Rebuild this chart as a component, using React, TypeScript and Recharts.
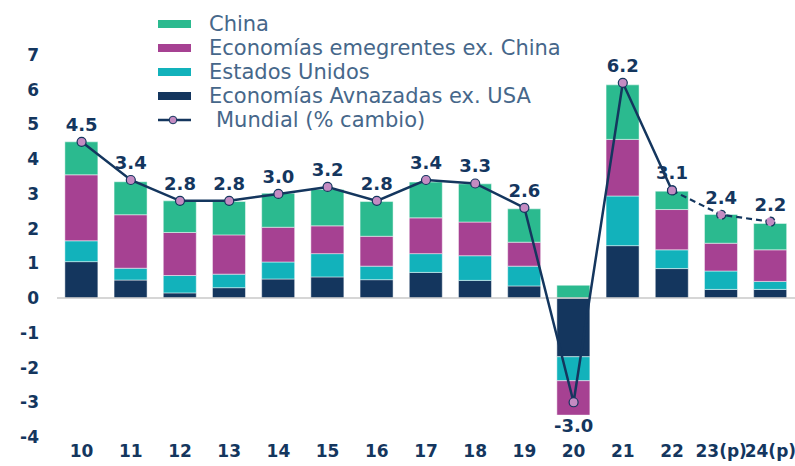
import {
  Bar,
  ComposedChart,
  Line,
  ReferenceLine,
  XAxis,
  YAxis,
} from "recharts";

// Contribución al crecimiento mundial (pp), por bloque
const YEARS = ["10", "11", "12", "13", "14", "15", "16", "17", "18", "19", "20", "21", "22", "23(p)", "24(p)"];
const AVANZADAS = [1.05, 0.52, 0.15, 0.3, 0.55, 0.61, 0.53, 0.74, 0.51, 0.35, -1.69, 1.51, 0.85, 0.25, 0.25];
const EEUU = [0.6, 0.34, 0.5, 0.39, 0.49, 0.67, 0.39, 0.54, 0.71, 0.57, -0.69, 1.43, 0.54, 0.53, 0.23];
const EMERGENTES = [1.9, 1.54, 1.24, 1.13, 1.0, 0.8, 0.86, 1.03, 0.97, 0.69, -0.99, 1.63, 1.16, 0.8, 0.91];
const CHINA = [0.95, 0.95, 0.91, 0.96, 0.98, 1.05, 1.0, 1.03, 1.1, 0.96, 0.37, 1.57, 0.53, 0.83, 0.76];
const MUNDIAL = [4.5, 3.4, 2.8, 2.8, 3.0, 3.2, 2.8, 3.4, 3.3, 2.6, -3.0, 6.2, 3.1, 2.4, 2.2];
const Y_TICKS = [-4, -3, -2, -1, 0, 1, 2, 3, 4, 5, 6, 7];

// last actual year; the line turns dashed after it
const LAST_ACTUAL = 12;

const NAVY = "#14365e";
const COLORS = {
  china: "#2bba8f",
  emergentes: "#a64192",
  eeuu: "#12b2bb",
  avanzadas: NAVY,
  dot: "#c48bc2",
};
const FONT = "'DejaVu Sans', sans-serif";

const data = YEARS.map((year, i) => ({
  year,
  avanzadas: AVANZADAS[i],
  eeuu: EEUU[i],
  emergentes: EMERGENTES[i],
  china: CHINA[i],
  solid: i <= LAST_ACTUAL ? MUNDIAL[i] : null,
  dashed: i >= LAST_ACTUAL ? MUNDIAL[i] : null,
}));

const LEGEND = [
  { label: "China", color: COLORS.china },
  { label: "Economías emegrentes ex. China", color: COLORS.emergentes },
  { label: "Estados Unidos", color: COLORS.eeuu },
  { label: "Economías Avnazadas ex. USA", color: COLORS.avanzadas },
];

function ValueLabel(props: any, from: number, to: number) {
  const { index, x, y, value } = props;
  if (index < from || index > to || value == null) return <g key={index} />;
  const neg = value < 0;
  return (
    <text
      key={index}
      x={Number(x)}
      y={Number(y) + (neg ? 30 : -11)}
      textAnchor="middle"
      fill={NAVY}
      fontSize={18}
      fontWeight="bold"
      fontFamily={FONT}
    >
      {Number(value).toFixed(1)}
    </text>
  );
}

function ChartLegend() {
  return (
    <div
      style={{
        position: "absolute",
        left: 158,
        top: 12,
        fontFamily: FONT,
        fontSize: 21,
        color: "#46678a",
        lineHeight: "24px",
      }}
    >
      {LEGEND.map((it) => (
        <div key={it.label} style={{ display: "flex", alignItems: "center", height: 24 }}>
          <span style={{ width: 33, height: 8, background: it.color, marginRight: 18 }} />
          <span>{it.label}</span>
        </div>
      ))}
      <div style={{ display: "flex", alignItems: "center", height: 24 }}>
        <svg width={33} height={10} style={{ marginRight: 25 }}>
          <line x1={0} y1={5} x2={33} y2={5} stroke={NAVY} strokeWidth={2.5} />
          <circle cx={15} cy={5} r={3.8} fill={COLORS.dot} stroke={NAVY} strokeWidth={1} />
        </svg>
        <span>Mundial (% cambio)</span>
      </div>
    </div>
  );
}

export default function App() {
  const dot = { r: 4.5, fill: COLORS.dot, stroke: NAVY, strokeWidth: 1.2 };
  const barStroke = { stroke: "rgba(255,255,255,0.6)", strokeWidth: 0.8 };
  return (
    <div style={{ position: "absolute", left: 0, top: 0, width: 795, height: 466, background: "#fff" }}>
      <ComposedChart
        width={795}
        height={466}
        data={data}
        stackOffset="sign"
        barCategoryGap="16%"
        margin={{ top: 55, right: 0, bottom: 0, left: 0 }}
      >
        <XAxis
          dataKey="year"
          axisLine={false}
          tickLine={false}
          height={29}
          interval={0}
          tick={{ fill: NAVY, fontSize: 17, fontWeight: "bold", fontFamily: FONT }}
        />
        <YAxis
          domain={[-4, 7]}
          ticks={Y_TICKS}
          width={57}
          axisLine={false}
          tickLine={false}
          tickMargin={12}
          tick={{ fill: NAVY, fontSize: 17, fontWeight: "bold", fontFamily: FONT }}
        />
        <ReferenceLine y={0} stroke="#c8c8c8" strokeWidth={1.5} />
        <Bar dataKey="avanzadas" stackId="a" fill={COLORS.avanzadas} {...barStroke} isAnimationActive={false} />
        <Bar dataKey="eeuu" stackId="a" fill={COLORS.eeuu} {...barStroke} isAnimationActive={false} />
        <Bar dataKey="emergentes" stackId="a" fill={COLORS.emergentes} {...barStroke} isAnimationActive={false} />
        <Bar dataKey="china" stackId="a" fill={COLORS.china} {...barStroke} isAnimationActive={false} />
        <Line
          dataKey="dashed"
          stroke={NAVY}
          strokeWidth={2.2}
          strokeDasharray="6 4"
          dot={dot}
          activeDot={false}
          isAnimationActive={false}
          label={(p: any) => ValueLabel(p, LAST_ACTUAL + 1, YEARS.length - 1)}
        />
        <Line
          dataKey="solid"
          stroke={NAVY}
          strokeWidth={2.5}
          dot={dot}
          activeDot={false}
          isAnimationActive={false}
          label={(p: any) => ValueLabel(p, 0, LAST_ACTUAL)}
        />
      </ComposedChart>
      <ChartLegend />
    </div>
  );
}
